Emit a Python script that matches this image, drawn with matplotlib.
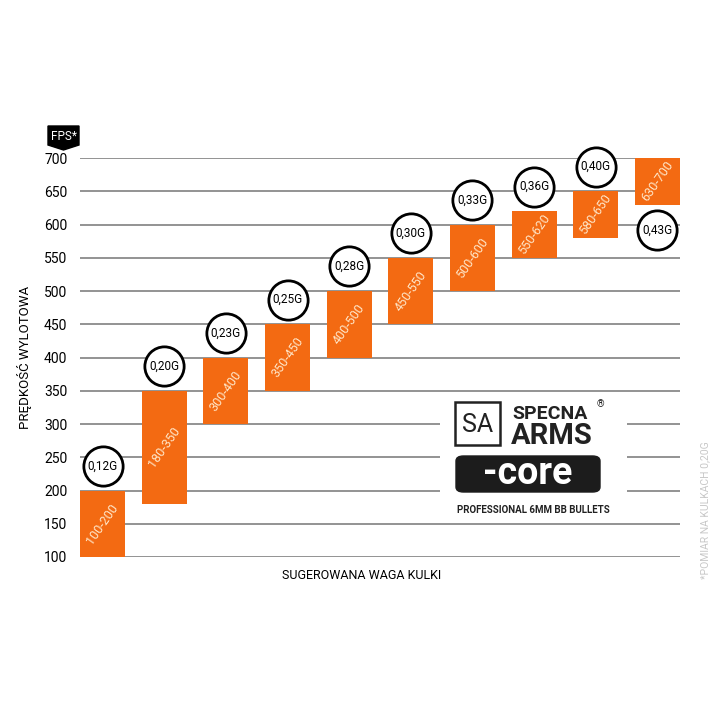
"""
Specna Arms CORE - muzzle velocity vs suggested BB weight
"""
import numpy as np
import matplotlib
matplotlib.use('Agg')
import matplotlib.pyplot as plt
from matplotlib.patches import Rectangle, Polygon, FancyBboxPatch

# data
fps_low = [100, 180, 300, 350, 400, 450, 500, 550, 580, 630]
fps_high = [200, 350, 400, 450, 500, 550, 600, 620, 650, 700]
bb_weight = ['0,12G', '0,20G', '0,23G', '0,25G', '0,28G',
             '0,30G', '0,33G', '0,36G', '0,40G', '0,43G']
badge_side = ['top'] * 9 + ['bottom']
yticks = [100, 150, 200, 250, 300, 350, 400, 450, 500, 550, 600, 650, 700]

orange = '#f36a12'
cream = '#ffe6c8'
plt.rcParams['font.family'] = ['Roboto', 'DejaVu Sans']

fig = plt.figure(figsize=(7.2, 7.2), dpi=100)
W, H = 720., 720.
ax = fig.add_axes([80/W, 1-557/H, 600/W, 399/H])

x = np.arange(len(fps_low))
lo = np.array(fps_low)
hi = np.array(fps_high)
barw = 0.73

for yv in yticks:
    ax.axhline(yv, color='#808080', lw=1.2, zorder=0)

ax.bar(x, hi-lo, bottom=lo, width=barw, color=orange, zorder=2)

for xi, l, h in zip(x, lo, hi):
    ax.text(xi, (l+h)/2., f'{l}-{h}', rotation=55, ha='center', va='center',
            color=cream, fontsize=9, zorder=3)

# weight badges
for xi, l, h, w, side in zip(x, lo, hi, bb_weight, badge_side):
    yc = h + 37 if side == 'top' else l - 38
    ax.scatter([xi], [yc], s=800, facecolor='white', edgecolor='black',
               linewidth=2.0, zorder=4, clip_on=False)
    ax.text(xi, yc, w, ha='center', va='center', fontsize=8.5, zorder=5)

ax.set_xlim(-barw/2, len(x)-1+barw/2)
ax.set_ylim(100, 700)
ax.set_yticks(yticks)
ax.set_yticklabels([str(v) for v in yticks], fontsize=10)
ax.set_xticks([])
ax.tick_params(axis='y', length=0, pad=9)
for s in ax.spines.values():
    s.set_visible(False)

ax.set_xlabel('SUGEROWANA WAGA KULKI', fontsize=9)
ax.xaxis.set_label_coords(0.47, -0.03)
ax.set_ylabel('PRĘDKOŚĆ WYLOTOWA', fontsize=9.5)
ax.yaxis.set_label_coords(-0.08, 0.5)

# FPS* tag
tag = Polygon([(48/W, 1-126/H), (79/W, 1-126/H), (79/W, 1-145/H),
               (63.5/W, 1-150/H), (48/W, 1-145/H)],
              closed=True, transform=fig.transFigure, color='black')
fig.patches.append(tag)
fig.text(63.5/W, 1-136/H, 'FPS*', color='white', ha='center', va='center',
         fontsize=8.5)

# footnote on the right
fig.text(705/W, 1-510/H, '*POMIAR NA KULKACH 0,20G', rotation=90,
         ha='center', va='center', color='#c8c8c8', fontsize=7.5)

# logo block
lx0, ly0, lw, lh = 440., 395., 187., 125.
lax = fig.add_axes([lx0/W, 1-(ly0+lh)/H, lw/W, lh/H])
lax.set_xlim(0, 1)
lax.set_ylim(0, 1)
lax.set_xticks([])
lax.set_yticks([])
for s in lax.spines.values():
    s.set_visible(False)
lax.set_facecolor('white')

def px(xp, yp):
    return (xp-lx0)/lw, (ly0+lh-yp)/lh

x0, y0 = px(455, 445)
x1, y1 = px(500, 402)
lax.add_patch(Rectangle((x0, y0), x1-x0, y1-y0, fill=False, lw=1.8,
                        edgecolor='#222222'))
lax.text(*px(477.5, 425), 'SA', ha='center', va='center', fontsize=18,
         color='#222222')
lax.text(*px(512, 414), 'SPECNA', ha='left', va='center', fontsize=14,
         fontweight='bold', color='#222222')
lax.text(*px(597, 404), '®', ha='left', va='center', fontsize=7,
         color='#222222')
lax.text(*px(511, 436), 'ARMS', ha='left', va='center', fontsize=21,
         fontweight='bold', color='#222222')

cx0, cy0 = px(456, 492)
cx1, cy1 = px(600, 456)
lax.add_patch(FancyBboxPatch((cx0, cy0), cx1-cx0, cy1-cy0,
                             boxstyle='round,pad=0,rounding_size=0.04',
                             color='#1c1c1c'))
lax.text(*px(528, 473), '-core', ha='center', va='center', fontsize=27,
         fontweight='bold', color='white')
lax.text(*px(533, 510), 'PROFESSIONAL 6MM BB BULLETS', ha='center',
         va='center', fontsize=7, fontweight='bold', color='#222222')

fig.savefig('out.png', dpi=100, facecolor='white')
